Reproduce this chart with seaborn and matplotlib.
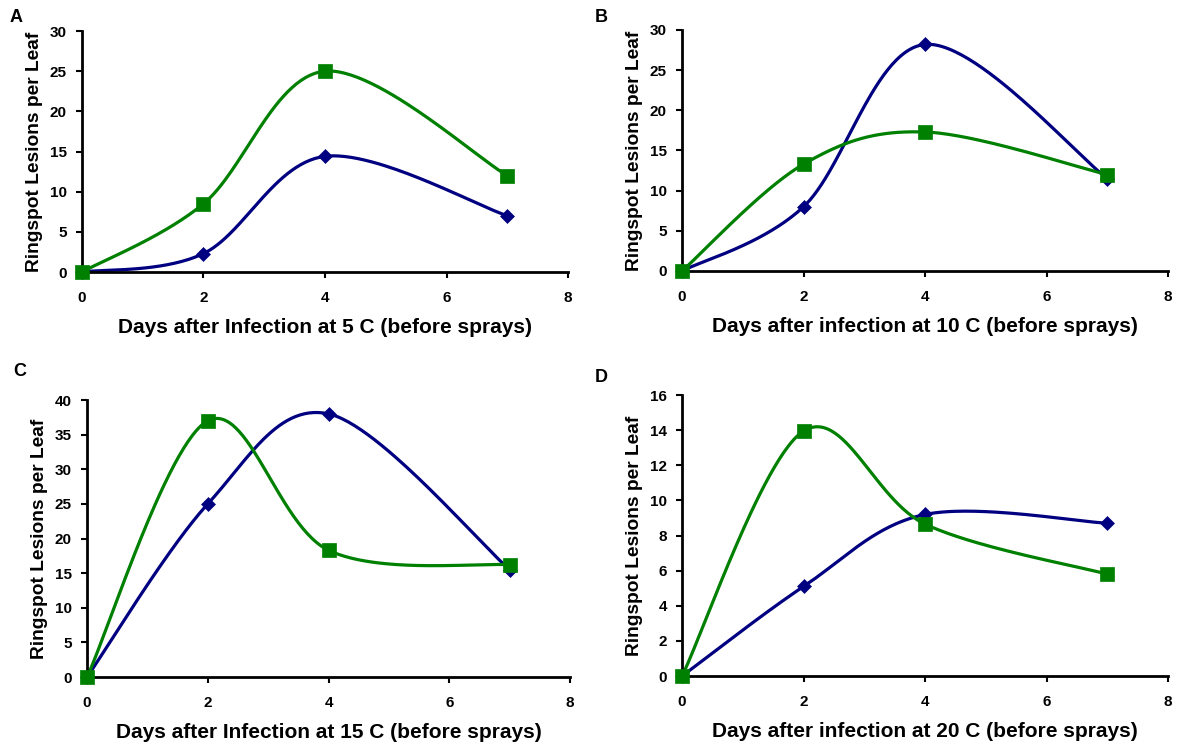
import numpy as np
import pandas as pd
import matplotlib
matplotlib.use("Agg")
import matplotlib.pyplot as plt
import seaborn as sns

days = [0, 2, 4, 7]

panel_letters = ["A", "B", "C", "D"]
xlabels = [
    "Days after Infection at 5 C (before sprays)",
    "Days after infection at 10 C (before sprays)",
    "Days after Infection at 15 C (before sprays)",
    "Days after infection at 20 C (before sprays)",
]
ylabel = "Ringspot Lesions per Leaf"

blue_A = [0, 2.3, 14.4, 7.0]
green_A = [0, 8.5, 25.0, 12.0]
blue_B = [0, 8.0, 28.2, 11.5]
green_B = [0, 13.3, 17.3, 12.0]
blue_C = [0, 25.0, 38.0, 15.5]
green_C = [0, 37.0, 18.3, 16.2]
blue_D = [0, 5.1, 9.2, 8.7]
green_D = [0, 13.95, 8.65, 5.8]

ymax = [30, 30, 40, 16]
ystep = [5, 5, 5, 2]
xticks = [0, 2, 4, 6, 8]

BLUE = "#000080"
GREEN = "#008000"

sns.set_theme(style="ticks")
plt.rcParams["font.family"] = ["Liberation Sans", "DejaVu Sans"]
plt.rcParams["font.weight"] = "bold"
plt.rcParams["text.color"] = "black"
plt.rcParams["axes.labelcolor"] = "black"
plt.rcParams["xtick.color"] = "black"
plt.rcParams["ytick.color"] = "black"


def smooth(xs, ys, n=60):
    """Excel-like smoothed line: cubic Bezier with Catmull-Rom control points."""
    P = np.column_stack([xs, ys]).astype(float)
    m = len(P)
    out = []
    for i in range(m - 1):
        p0 = P[i - 1] if i > 0 else P[i]
        p1 = P[i]
        p2 = P[i + 1]
        p3 = P[i + 2] if i + 2 < m else P[i + 1]
        c1 = p1 + (p2 - p0) / 6.0
        c2 = p2 - (p3 - p1) / 6.0
        t = np.linspace(0, 1, n)[:, None]
        seg = ((1 - t) ** 3) * p1 + 3 * ((1 - t) ** 2) * t * c1 + 3 * (1 - t) * t ** 2 * c2 + t ** 3 * p2
        if i > 0:
            seg = seg[1:]
        out.append(seg)
    arr = np.vstack(out)
    return arr[:, 0], arr[:, 1]


fig = plt.figure(figsize=(11.78, 7.42), dpi=100)
positions = [
    [0.0696, 0.6334, 0.4126, 0.3248],
    [0.5790, 0.6348, 0.4126, 0.3248],
    [0.0739, 0.0876, 0.4100, 0.3733],
    [0.5790, 0.0889, 0.4126, 0.3787],
]
letter_pos = [(0.008, 0.977), (0.505, 0.977), (0.011, 0.499), (0.505, 0.491)]

blues = [blue_A, blue_B, blue_C, blue_D]
greens = [green_A, green_B, green_C, green_D]

for k in range(4):
    ax = fig.add_axes(positions[k])
    for vals, col, mk, ms in [(blues[k], BLUE, "D", 50), (greens[k], GREEN, "s", 105)]:
        sx, sy = smooth(days, vals)
        df_line = pd.DataFrame({"x": sx, "y": sy})
        sns.lineplot(data=df_line, x="x", y="y", sort=False, color=col, linewidth=2.3,
                     ax=ax, clip_on=False, estimator=None)
        df_pts = pd.DataFrame({"x": days, "y": vals})
        sns.scatterplot(data=df_pts, x="x", y="y", marker=mk, s=ms, color=col,
                        edgecolor=col, linewidth=0.5, ax=ax, clip_on=False, zorder=5)
    yt = np.arange(0, ymax[k] + 0.1, ystep[k])
    ax.set_xlim(0, 8)
    ax.set_ylim(0, ymax[k])
    ax.set_xticks(xticks)
    ax.set_yticks(yt)
    ax.set_xticklabels([str(v) for v in xticks], fontsize=11, fontweight="bold")
    ax.set_yticklabels([str(int(v)) for v in yt], fontsize=11, fontweight="bold")
    ax.set_xlabel(xlabels[k], fontsize=15, fontweight="bold", labelpad=9)
    ax.set_ylabel(ylabel, fontsize=13.8, fontweight="bold", labelpad=5)
    sns.despine(ax=ax)
    for sp in ["left", "bottom"]:
        ax.spines[sp].set_linewidth(2)
        ax.spines[sp].set_color("black")
    ax.tick_params(axis="x", direction="out", length=4, width=1.5, pad=10)
    ax.tick_params(axis="y", direction="out", length=4, width=1.5, pad=7)
    fig.text(letter_pos[k][0], letter_pos[k][1], panel_letters[k], fontsize=13,
             fontweight="bold", ha="left", va="center")

fig.savefig("out.png", dpi=100, facecolor="white")
